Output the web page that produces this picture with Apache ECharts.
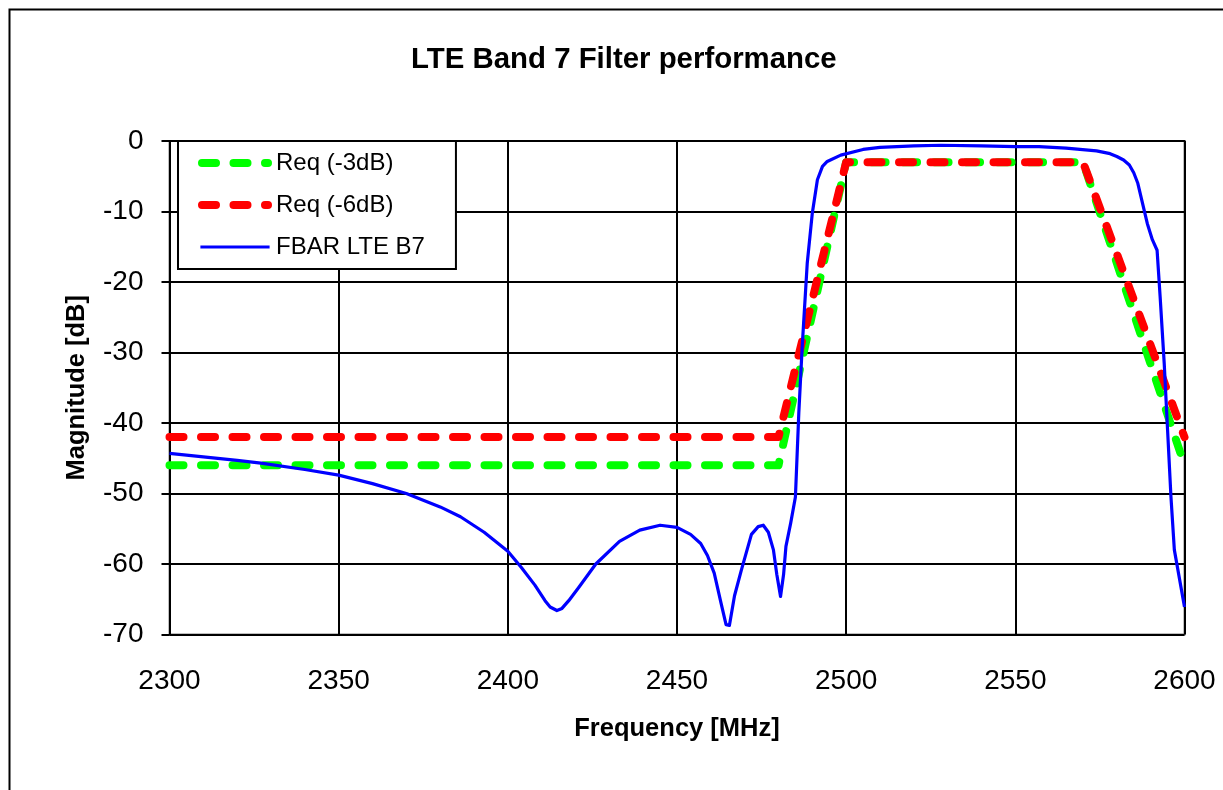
<!DOCTYPE html>
<html>
<head>
<meta charset="utf-8">
<script src="https://cdn.jsdelivr.net/npm/echarts@6/dist/echarts.min.js"></script>
<style>
html,body{margin:0;padding:0;background:#fff;}
#chart{width:1223px;height:790px;}
</style>
</head>
<body>
<div id="chart"></div>
<script>
const titleText = 'LTE Band 7 Filter performance';
const xName = 'Frequency [MHz]';
const yName = 'Magnitude [dB]';
const seriesNames = ['Req (-3dB)', 'Req (-6dB)', 'FBAR LTE B7'];

const req3 = [[2300,-46],[2480,-46],[2500,-3],[2570,-3],[2600,-46]];
const req6 = [[2300,-42],[2480,-42],[2500,-3],[2570,-3],[2600,-42]];
const fbar = [
  [2300,-44.3],[2310,-44.8],[2320,-45.3],[2327,-45.7],[2340,-46.6],[2350,-47.4],
  [2360,-48.6],[2370,-50.0],[2380,-51.9],[2386,-53.3],[2393,-55.5],[2400,-58.2],
  [2404,-60.5],[2408,-63.0],[2411,-65.2],[2412.5,-66.1],[2414.5,-66.6],[2416,-66.3],
  [2418,-65.2],[2421,-63.3],[2426,-60.0],[2433,-56.8],[2439,-55.2],[2445,-54.5],
  [2450,-54.8],[2454,-55.8],[2457,-57.1],[2459,-58.8],[2461,-61.3],[2463,-65.5],
  [2464.5,-68.6],[2465.5,-68.7],[2467,-64.5],[2469,-60.9],[2472,-55.8],[2474,-54.7],
  [2475.5,-54.5],[2477,-55.5],[2478.5,-58.0],[2479.5,-61.5],[2480.6,-64.6],
  [2481.5,-61.5],[2482.2,-57.5],[2483.6,-54.2],[2485,-50.5],[2486,-38.6],
  [2487,-29.2],[2488.5,-17.3],[2490,-10.2],[2491.5,-5.5],[2493,-3.6],[2494.4,-2.9],
  [2498.4,-2.0],[2505,-1.2],[2510,-0.9],[2520,-0.7],[2528,-0.6],[2540,-0.7],
  [2550,-0.8],[2557,-0.8],[2565,-1.0],[2574,-1.4],[2578,-1.8],[2580,-2.2],
  [2582,-2.7],[2583.7,-3.4],[2585,-4.5],[2586.2,-6.0],[2589,-11.7],[2590.5,-14.0],
  [2591.9,-15.5],[2592.8,-22.1],[2594,-31.5],[2595,-41.0],[2596,-50.5],
  [2597,-58.0],[2600,-66.1]
];
const xTicks = {min:2300, max:2600, interval:50};
const yTicks = {min:-70, max:0, interval:10};

const chart = echarts.init(document.getElementById('chart'));
const font = 'Liberation Sans, Arial, sans-serif';
const dash = [14, 17.5];
const hidden = {color: 'rgba(0,0,0,0)', borderColor: 'rgba(0,0,0,0)', borderWidth: 0, opacity: 0};

chart.setOption({
  backgroundColor: '#fff',
  animation: false,
  graphic: [{
    type: 'rect', left: 7, top: 7, z: -10,
    shape: {x: 0, y: 0, width: 1300, height: 900},
    style: {fill: 'none', stroke: '#000', lineWidth: 2}
  }],
  title: {
    text: titleText, left: 406, top: 40,
    textStyle: {fontFamily: font, fontSize: 29.4, fontWeight: 'bold', color: '#000'}
  },
  legend: {
    orient: 'vertical', left: 178, top: 141,
    padding: [8, 31, 8, 20],
    itemWidth: 66, itemHeight: 14, itemGap: 14,
    backgroundColor: '#fff', borderColor: '#000', borderWidth: 2,
    textStyle: {fontFamily: font, fontSize: 24, color: '#000', lineHeight: 28, padding: [0, 0, 0, 3]},
    data: [
      {name: seriesNames[0], lineStyle: {width: 8}, itemStyle: hidden},
      {name: seriesNames[1], lineStyle: {width: 8}, itemStyle: hidden},
      {name: seriesNames[2], lineStyle: {width: 3.2, cap: 'square'}, itemStyle: hidden}
    ]
  },
  grid: {
    left: 169.5, right: 38.5, top: 141, bottom: 155.5,
    show: true, borderColor: '#808080', borderWidth: 2, backgroundColor: '#fff'
  },
  xAxis: {
    type: 'value', min: xTicks.min, max: xTicks.max, interval: xTicks.interval,
    name: xName, nameLocation: 'middle', nameGap: 81,
    nameTextStyle: {fontFamily: font, fontSize: 25.5, fontWeight: 'bold', color: '#000'},
    axisLine: {show: true, lineStyle: {color: '#000', width: 2}},
    axisTick: {show: true, inside: false, length: 8, lineStyle: {color: '#000', width: 2}},
    axisLabel: {fontFamily: font, fontSize: 28, color: '#000', margin: 33,
      formatter: function (v) { return String(v); }},
    splitLine: {show: true, lineStyle: {color: '#000', width: 2},
      interval: function (i, v) { return v !== xTicks.min && v !== xTicks.max; }}
  },
  yAxis: {
    type: 'value', min: yTicks.min, max: yTicks.max, interval: yTicks.interval,
    name: yName, nameLocation: 'middle', nameGap: 80, nameRotate: 90,
    nameTextStyle: {fontFamily: font, fontSize: 25.5, fontWeight: 'bold', color: '#000'},
    axisLine: {show: true, lineStyle: {color: '#000', width: 2}},
    axisTick: {show: true, inside: false, length: 8, lineStyle: {color: '#000', width: 2}},
    axisLabel: {fontFamily: font, fontSize: 28, color: '#000', margin: 26},
    splitLine: {show: true, lineStyle: {color: '#000', width: 2},
      interval: function (i, v) { return v !== yTicks.min && v !== yTicks.max; }}
  },
  series: [
    {name: seriesNames[0], type: 'line', data: req3, symbol: 'none', z: 3,
     lineStyle: {color: '#00ff00', width: 8, type: dash, cap: 'round', join: 'round'},
     itemStyle: {color: '#00ff00'}},
    {name: seriesNames[1], type: 'line', data: req6, symbol: 'none', z: 4,
     lineStyle: {color: '#ff0000', width: 8, type: dash, cap: 'round', join: 'round'},
     itemStyle: {color: '#ff0000'}},
    {name: seriesNames[2], type: 'line', data: fbar, symbol: 'none', z: 5,
     lineStyle: {color: '#0000ff', width: 3.2, join: 'round'},
     itemStyle: {color: '#0000ff'}}
  ]
});
</script>
</body>
</html>
